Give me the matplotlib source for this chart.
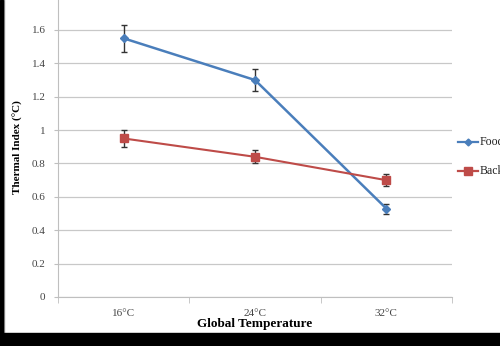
import matplotlib
matplotlib.use("Agg")
import matplotlib.pyplot as plt
from matplotlib.patches import Rectangle
from matplotlib.lines import Line2D

categories = ["16°C", "24°C", "32°C"]
food = [1.55, 1.30, 0.53]
food_err = [0.08, 0.065, 0.03]
background = [0.95, 0.84, 0.70]
background_err = [0.05, 0.04, 0.035]
yticks = [0, 0.2, 0.4, 0.6, 0.8, 1.0, 1.2, 1.4, 1.6]
yticklabels = ["0", "0.2", "0.4", "0.6", "0.8", "1", "1.2", "1.4", "1.6"]

plt.rcParams["font.family"] = ["Liberation Serif", "DejaVu Serif"]

W, H = 500, 346
fig = plt.figure(figsize=(W / 100, H / 100), dpi=100)

x0, x1 = 58, 452
y_zero, y_top = 297, -3.4
ax = fig.add_axes([x0 / W, (H - y_zero) / H, (x1 - x0) / W, (y_zero - y_top) / H])

blue = "#4A7EBB"
red = "#BE4B48"
xs = list(range(len(categories)))

ax.errorbar(xs, food, yerr=food_err, color=blue, lw=1.8, marker="D", ms=4,
            ecolor="#333333", elinewidth=1, capsize=2.5, capthick=1, zorder=3)
ax.errorbar(xs, background, yerr=background_err, color=red, lw=1.5, marker="s", ms=6,
            ecolor="#333333", elinewidth=1, capsize=2.5, capthick=1, zorder=3)

ax.set_xlim(-0.5, 2.5)
ax.set_ylim(0, 1.8)
ax.set_yticks(yticks)
ax.set_yticklabels(yticklabels, fontsize=8, color="#444444")
ax.set_xticks(xs)
ax.set_xticklabels(categories, fontsize=8, color="#444444")
ax.tick_params(axis="x", length=0, pad=9)
ax.tick_params(axis="y", length=3, color="#bfbfbf", pad=6)
ax.set_xticks([-0.5, 0.5, 1.5, 2.5], minor=True)
ax.tick_params(axis="x", which="minor", length=4, color="#bfbfbf")
ax.yaxis.grid(True, color="#c8c8c8", lw=0.9)
ax.set_axisbelow(True)
for s in ["top", "right"]:
    ax.spines[s].set_visible(False)
ax.spines["left"].set_color("#bfbfbf")
ax.spines["bottom"].set_color("#bfbfbf")

ax.set_xlabel("Global Temperature", fontsize=9.5, fontweight="bold", labelpad=0)
ax.set_ylabel("Thermal Index (°C)", fontsize=8, fontweight="bold", labelpad=6)

# legend entries placed at the right edge
def legend_entry(y, color, marker, ms, label):
    fig.add_artist(Line2D([458 / W, 478 / W], [(H - y) / H] * 2, color=color, lw=1.6,
                          transform=fig.transFigure))
    fig.add_artist(Line2D([468 / W], [(H - y) / H], color=color, marker=marker, ms=ms,
                          transform=fig.transFigure))
    fig.text(480 / W, (H - y) / H, label, fontsize=8.5, va="center", ha="left", color="#222222")

legend_entry(142, blue, "D", 3.5, "Food")
legend_entry(171, red, "s", 6, "Background")

# dark frame
fig.add_artist(Rectangle((0, 0), 3 / W, 1, transform=fig.transFigure, color="black", zorder=10))
fig.add_artist(Rectangle((0, 0), 1, 13 / H, transform=fig.transFigure, color="black", zorder=10))
fig.add_artist(Line2D([3.5 / W, 3.5 / W], [13 / H, 1], color="#9a9a9a", lw=1, transform=fig.transFigure))

fig.savefig("out.png", dpi=100)
